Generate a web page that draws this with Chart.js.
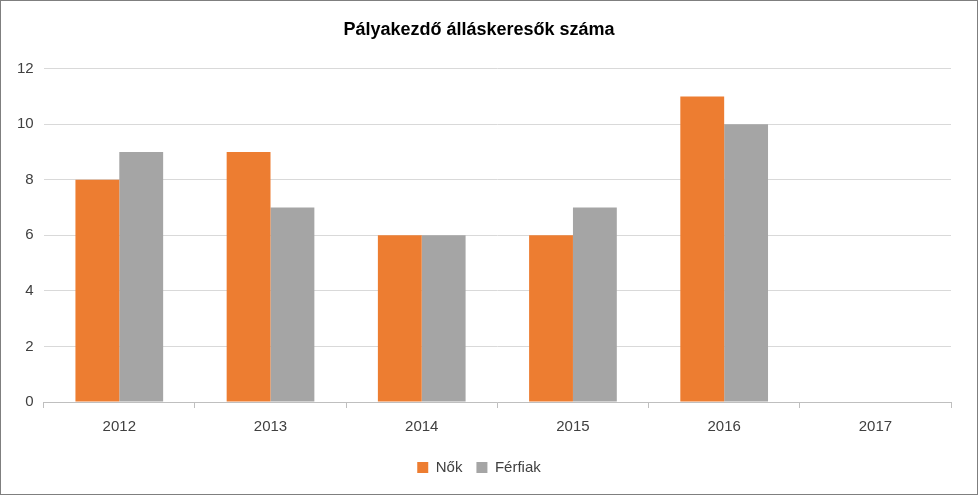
<!DOCTYPE html>
<html><head><meta charset="utf-8">
<script src="https://cdn.jsdelivr.net/npm/chart.js@4"></script>
<style>
html,body{margin:0;padding:0;background:#fff;}
#wrap{position:absolute;left:0;top:0;width:976px;height:493px;border:1px solid #7f7f7f;}
</style></head><body>
<div id="wrap"><canvas id="c" width="976" height="493"></canvas></div>
<script>
const categories=['2012','2013','2014','2015','2016','2017'];
const nok=[8,9,6,6,11,null];
const ferfiak=[9,7,6,7,10,null];
const yTicks={min:0,max:12,step:2};
const font="'Liberation Sans', 'Open Sans', sans-serif";
new Chart(document.getElementById('c'),{
type:'bar',
data:{labels:categories,datasets:[
{label:'Nők',data:nok,backgroundColor:'#ED7D31',categoryPercentage:0.58,barPercentage:1},
{label:'Férfiak',data:ferfiak,backgroundColor:'#A5A5A5',categoryPercentage:0.58,barPercentage:1}
]},
options:{responsive:false,animation:false,
layout:{padding:{left:6,right:26,top:6,bottom:9}},
plugins:{
title:{display:true,text:'Pályakezdő álláskeresők száma',color:'#000',font:{family:font,size:18,weight:'bold'},padding:{top:12,bottom:28}},
legend:{position:'bottom',labels:{boxWidth:11,boxHeight:11,color:'#404040',font:{family:font,size:15},padding:14}},
tooltip:{enabled:false}},
scales:{
x:{grid:{display:true,offset:true,drawOnChartArea:false,color:'#BFBFBF',tickLength:6},border:{color:'#BFBFBF'},
ticks:{color:'#404040',font:{family:font,size:15},padding:10}},
y:{min:yTicks.min,max:yTicks.max,grid:{color:'#D9D9D9',drawTicks:false},border:{display:false},
ticks:{stepSize:yTicks.step,color:'#404040',font:{family:font,size:15},padding:10}}
}}});
</script></body></html>
